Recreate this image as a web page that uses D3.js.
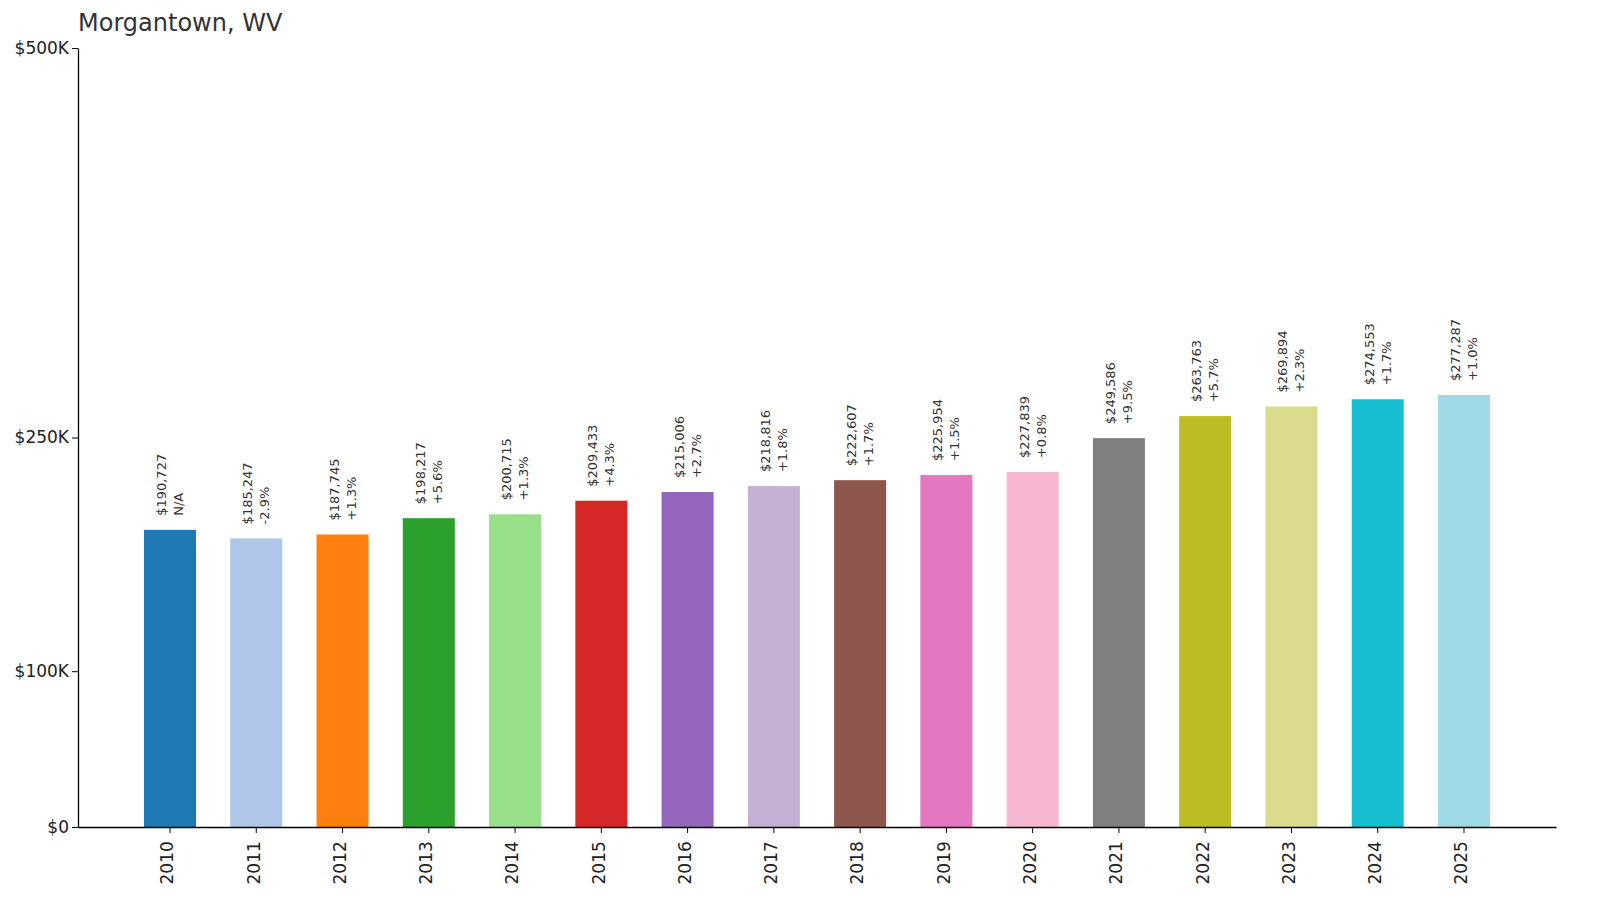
<!DOCTYPE html>
<html><head><meta charset="utf-8">
<script src="https://cdn.jsdelivr.net/npm/d3@7"></script>
<style>body{margin:0;background:#fff}text{font-family:"DejaVu Sans",sans-serif}</style>
</head><body><div id="chart"></div>
<script>
var years = ['2010','2011','2012','2013','2014','2015','2016','2017','2018','2019','2020','2021','2022','2023','2024','2025'];
var values = [190727,185247,187745,198217,200715,209433,215006,218816,222607,225954,227839,249586,263763,269894,274553,277287];
var changes = ['N/A','-2.9%','+1.3%','+5.6%','+1.3%','+4.3%','+2.7%','+1.8%','+1.7%','+1.5%','+0.8%','+9.5%','+5.7%','+2.3%','+1.7%','+1.0%'];
var colors = ['#1f77b4','#aec7e8','#ff7f0e','#2ca02c','#98df8a','#d62728','#9467bd','#c5b0d5','#8c564b','#e377c2','#f7b6d2','#7f7f7f','#bcbd22','#dbdb8d','#17becf','#9edae5'];
var yTicks = [0,100000,250000,500000];
var yTickLabels = ['$0','$100K','$250K','$500K'];

var svg = d3.select('#chart').append('svg').attr('width',1600).attr('height',910);
var x = d3.scaleBand().domain(years).range([78,1556]).paddingInner(0.397).paddingOuter(0.765);
var y = d3.scaleLinear().domain([0,500000]).range([827,48]);

svg.append('text').attr('x',78).attr('y',31).attr('font-size',24).attr('fill','#333').text('Morgantown, WV');

svg.selectAll('rect.bar').data(values).enter().append('rect')
    .attr('x',function(d,i){return x(years[i]);})
    .attr('y',function(d){return y(d);})
    .attr('width',x.bandwidth())
    .attr('height',function(d){return y(0)-y(d);})
    .attr('fill',function(d,i){return colors[i];});

var lab = svg.selectAll('g.lab').data(values).enter().append('g')
    .attr('transform',function(d,i){return 'translate('+(x(years[i])+x.bandwidth()/2)+','+(y(d)-14)+') rotate(-90)';});
lab.append('text').attr('x',0).attr('y',-4).attr('font-size',13).attr('fill','#333')
    .text(function(d){return '$'+d3.format(',')(d);});
lab.append('text').attr('x',0).attr('y',13).attr('font-size',13).attr('fill','#333')
    .text(function(d,i){return changes[i];});

var ya = svg.append('g').attr('transform','translate(78,0)')
    .call(d3.axisLeft(y).tickValues(yTicks).tickFormat(function(d,i){return yTickLabels[i];}).tickSizeOuter(0));
ya.selectAll('text').attr('font-size',17).attr('fill','#222');
var xa = svg.append('g').attr('transform','translate(0,827)')
    .call(d3.axisBottom(x).tickSizeOuter(0));
xa.selectAll('text').attr('font-size',17).attr('fill','#222')
    .attr('transform','rotate(-90)').attr('text-anchor','end').attr('dx','-0.6em').attr('dy','-0.1em').attr('y',0).attr('x',-4)
    .style('dominant-baseline','middle');
svg.selectAll('.domain').attr('stroke','#000').attr('stroke-width',1.3);
</script></body></html>
